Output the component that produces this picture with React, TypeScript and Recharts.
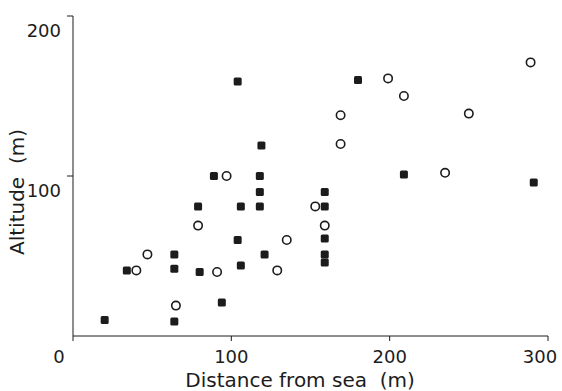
import { ScatterChart, Scatter, XAxis, YAxis } from 'recharts'

// distance from sea (m), altitude (m)
const filledDistance = [20, 34, 64, 64, 64, 89, 118, 118, 79, 106, 118, 104, 121, 106, 80, 94, 159, 159, 159, 159, 159, 104, 119, 180, 209, 291]
const filledAltitude = [10, 41, 51, 42, 9, 100, 100, 90, 81, 81, 81, 60, 51, 44, 40, 21, 90, 81, 61, 51, 46, 159, 119, 160, 101, 96]

const openDistance = [40, 47, 65, 97, 79, 135, 129, 91, 153, 159, 169, 169, 199, 209, 250, 289, 235]
const openAltitude = [41, 51, 19, 100, 69, 60, 41, 40, 81, 69, 138, 120, 161, 150, 139, 171, 102]

const xTicks = [0, 100, 200, 300]
const yTicks = [100, 200]

const filledPoints = filledDistance.map((d, i) => ({ d, a: filledAltitude[i] }))
const openPoints = openDistance.map((d, i) => ({ d, a: openAltitude[i] }))

const ink = '#1c1c1c'
const font = '"DejaVu Sans", sans-serif'

const FilledMark = (props: any) => (
  <rect x={props.cx - 4} y={props.cy - 4} width={8} height={8} rx={1.5} fill={ink} />
)

const OpenMark = (props: any) => (
  <circle cx={props.cx} cy={props.cy} r={4.2} fill="#fff" stroke={ink} strokeWidth={1.6} />
)

const XTick = (props: any) => {
  const { x, y, payload } = props
  // origin label sits left of the corner, last label pulled in from the edge
  const shift = payload.value === 0 ? -14 : payload.value === 300 ? -8 : 0
  return (
    <text x={x + shift} y={y} dy={20} textAnchor="middle" fill={ink} fontSize={18} fontFamily={font}>
      {payload.value}
    </text>
  )
}

const YTick = (props: any) => {
  const { x, y, payload } = props
  return (
    <text x={x - 4} y={y} dy={21} textAnchor="end" fill={ink} fontSize={18} fontFamily={font}>
      {payload.value}
    </text>
  )
}

export default function App() {
  return (
    <div style={{ position: 'absolute', left: 0, top: 0, background: '#fff' }}>
      <ScatterChart width={562} height={391} margin={{ top: 16, right: 14, bottom: 0, left: 0 }}>
        <XAxis
          type="number"
          dataKey="d"
          domain={[0, 300]}
          ticks={xTicks}
          height={55}
          stroke={ink}
          tickSize={5}
          tick={<XTick />}
          label={{
            content: () => (
              <text x={300} y={387} textAnchor="middle" fill={ink} fontSize={20} fontFamily={font}>
                {'Distance from sea\u00a0\u00a0(m)'}
              </text>
            ),
          }}
        />
        <YAxis
          type="number"
          dataKey="a"
          domain={[0, 200]}
          ticks={yTicks}
          width={73}
          stroke={ink}
          tickSize={6}
          tick={<YTick />}
          label={{
            content: () => (
              <text
                x={24}
                y={192}
                transform="rotate(-90 24 192)"
                textAnchor="middle"
                fill={ink}
                fontSize={20}
                fontFamily={font}
              >
                {'Altitude\u00a0\u00a0(m)'}
              </text>
            ),
          }}
        />
        <Scatter data={filledPoints} shape={<FilledMark />} isAnimationActive={false} />
        <Scatter data={openPoints} shape={<OpenMark />} isAnimationActive={false} />
      </ScatterChart>
    </div>
  )
}
